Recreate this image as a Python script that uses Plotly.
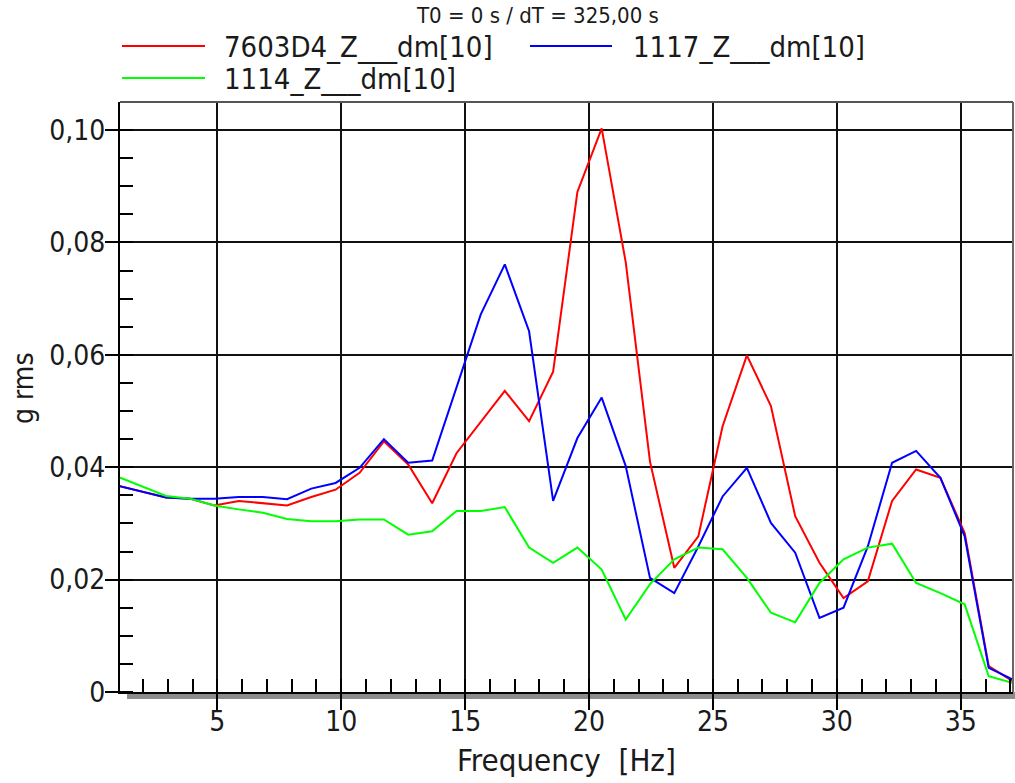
import plotly.graph_objects as go

# ---------------- data ----------------
freq_hz = [0.98, 1.95, 2.93, 3.91, 4.88, 5.86, 6.84, 7.81, 8.79, 9.77,
           10.74, 11.72, 12.70, 13.67, 14.65, 15.63, 16.60, 17.58, 18.55, 19.53,
           20.51, 21.48, 22.46, 23.44, 24.41, 25.39, 26.37, 27.34, 28.32, 29.30,
           30.27, 31.25, 32.23, 33.20, 34.18, 35.16, 36.13, 37.11]

g_7603D4 = [0.0367, 0.0357, 0.0346, 0.0344, 0.0332, 0.0340, 0.0336, 0.0332, 0.0347, 0.0360,
            0.0390, 0.0446, 0.0405, 0.0336, 0.0425, 0.0480, 0.0536, 0.0482, 0.0570, 0.0890,
            0.1003, 0.0765, 0.0410, 0.0221, 0.0277, 0.0473, 0.0599, 0.0509, 0.0313, 0.0230,
            0.0167, 0.0197, 0.0340, 0.0396, 0.0381, 0.0283, 0.0046, 0.0019]

g_1117 = [0.0367, 0.0357, 0.0346, 0.0344, 0.0344, 0.0347, 0.0347, 0.0343, 0.0362, 0.0372,
          0.0399, 0.0450, 0.0408, 0.0412, 0.0540, 0.0672, 0.0761, 0.0642, 0.0340, 0.0452,
          0.0524, 0.0402, 0.0203, 0.0176, 0.0259, 0.0348, 0.0399, 0.0301, 0.0248, 0.0132,
          0.0150, 0.0259, 0.0408, 0.0429, 0.0381, 0.0277, 0.0043, 0.0022]

g_1114 = [0.0383, 0.0366, 0.0349, 0.0344, 0.0332, 0.0325, 0.0319, 0.0308, 0.0304, 0.0304,
          0.0307, 0.0307, 0.0280, 0.0286, 0.0322, 0.0322, 0.0329, 0.0257, 0.0230, 0.0257,
          0.0218, 0.0129, 0.0192, 0.0236, 0.0257, 0.0254, 0.0203, 0.0141, 0.0124, 0.0194,
          0.0236, 0.0257, 0.0264, 0.0194, 0.0176, 0.0156, 0.0028, 0.0016]

series_names = ["7603D4_Z___dm[10]", "1117_Z___dm[10]", "1114_Z___dm[10]"]
series_colors = ["#FF0000", "#0000FF", "#00FF00"]

x_tick_vals = [5, 10, 15, 20, 25, 30, 35]
x_tick_text = ["5", "10", "15", "20", "25", "30", "35"]
y_tick_vals = [0, 0.02, 0.04, 0.06, 0.08, 0.10]
y_tick_text = ["0", "0,02", "0,04", "0,06", "0,08", "0,10"]

title_text = "T0 = 0 s / dT = 325,00 s"
x_title = "Frequency\u00a0\u00a0[Hz]"
y_title = "g rms"

# ---------------- layout helpers (pixels -> paper) ----------------
W, H = 1015, 783
PL, PR, PT, PB = 120, 1013, 102, 692
FONT = "DejaVu Sans Condensed, Liberation Sans, sans-serif"
TXT = "#1a1a1a"


def px_x(x):
    return (x - PL) / (PR - PL)


def px_y(y):
    return (PB - y) / (PB - PT)


fig = go.Figure()
for name, color, vals in zip(series_names, series_colors, [g_7603D4, g_1117, g_1114]):
    fig.add_trace(go.Scatter(x=freq_hz, y=vals, mode="lines", name=name,
                             line=dict(color=color, width=2), showlegend=False))

shapes = []
annotations = []

# custom legend
legend_items = [
    (0, 122, 205, 46, 222),
    (1, 530, 612, 46, 631),
    (2, 122, 205, 78, 222),
]
for idx, x0, x1, yy, tx in legend_items:
    shapes.append(dict(type="line", xref="paper", yref="paper",
                       x0=px_x(x0), x1=px_x(x1), y0=px_y(yy), y1=px_y(yy),
                       line=dict(color=series_colors[idx], width=2)))
    annotations.append(dict(text=series_names[idx], xref="paper", yref="paper",
                            x=px_x(tx), y=px_y(yy + 1), xanchor="left", yanchor="middle",
                            showarrow=False, font=dict(family=FONT, size=29, color=TXT)))

# top title
annotations.append(dict(text=title_text, xref="paper", yref="paper",
                        x=px_x(537), y=px_y(15), xanchor="center", yanchor="middle",
                        showarrow=False, font=dict(family=FONT, size=22, color=TXT)))
# axis titles
annotations.append(dict(text=x_title, xref="paper", yref="paper",
                        x=px_x(566.5), y=px_y(760), xanchor="center", yanchor="middle",
                        showarrow=False, font=dict(family=FONT, size=31, color=TXT)))
annotations.append(dict(text=y_title, xref="paper", yref="paper", textangle=-90,
                        x=px_x(23), y=px_y(388), xanchor="center", yanchor="middle",
                        showarrow=False, font=dict(family=FONT, size=28, color=TXT)))

# frame: top and right border, grey shadow under x axis
shapes.append(dict(type="line", xref="paper", yref="paper", x0=0, x1=1, y0=1, y1=1,
                   line=dict(color="#555555", width=2)))
shapes.append(dict(type="line", xref="paper", yref="paper", x0=1, x1=1, y0=0, y1=1,
                   line=dict(color="#666666", width=2)))
shapes.append(dict(type="rect", xref="paper", yref="paper", layer="below",
                   x0=px_x(127), x1=px_x(1016), y0=px_y(699), y1=px_y(692),
                   line=dict(width=0), fillcolor="#8c8c8c"))

fig.update_layout(
    width=W, height=H,
    margin=dict(l=PL, r=W - PR, t=PT, b=H - PB, pad=0),
    paper_bgcolor="white", plot_bgcolor="white",
    showlegend=False,
    shapes=shapes, annotations=annotations,
    font=dict(family=FONT, size=28, color=TXT),
)

fig.update_xaxes(
    range=[1.07, 37.11], tickmode="array", tickvals=x_tick_vals, ticktext=x_tick_text,
    ticks="outside", ticklen=16, tickwidth=2, tickcolor="black", ticklabelstandoff=-13,
    showgrid=True, gridcolor="#111111", gridwidth=2, zeroline=False,
    showline=True, linecolor="black", linewidth=2,
    tickfont=dict(family=FONT, size=28, color=TXT),
    minor=dict(tickmode="linear", tick0=0, dtick=1, ticks="inside", ticklen=13,
               tickwidth=2, tickcolor="black", showgrid=False),
)
fig.update_yaxes(
    range=[0, 0.105], tickmode="array", tickvals=y_tick_vals, ticktext=y_tick_text,
    ticks="outside", ticklen=13, tickwidth=2, tickcolor="black", ticklabelstandoff=-6,
    showgrid=True, gridcolor="#111111", gridwidth=2, zeroline=False,
    showline=True, linecolor="black", linewidth=2,
    tickfont=dict(family=FONT, size=28, color=TXT),
    minor=dict(tickmode="linear", tick0=0, dtick=0.005, ticks="inside", ticklen=13,
               tickwidth=2, tickcolor="black", showgrid=False),
)

fig.write_html("out.html", config={"displayModeBar": False},
               post_script="document.body.style.margin='0';")
